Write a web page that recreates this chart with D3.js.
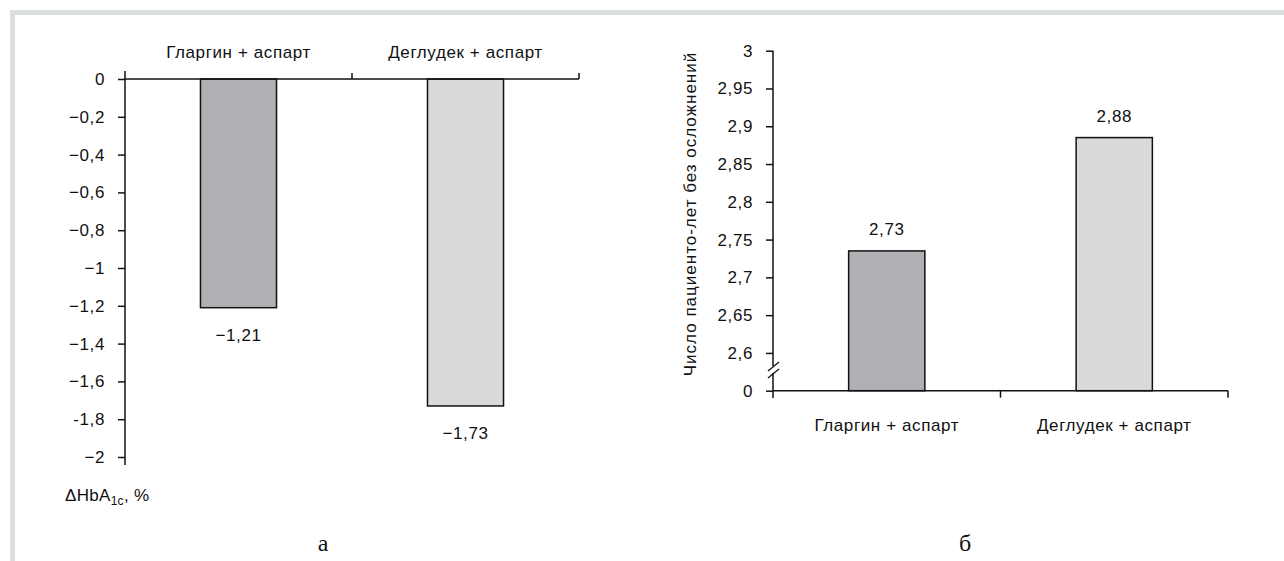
<!DOCTYPE html>
<html>
<head>
<meta charset="utf-8">
<script src="https://cdn.jsdelivr.net/npm/d3@7"></script>
<style>
  html, body { margin: 0; padding: 0; background: #fff; }
  svg { display: block; }
  text { font-family: "Liberation Sans", Arial, Helvetica, sans-serif; fill: #111; }
</style>
</head>
<body>
<svg id="chart" width="1284" height="561"></svg>
<script>
// ---- data ----
const categories = ["Гларгин + аспарт", "Деглудек + аспарт"];
const hba1cValues = [-1.21, -1.73];
const hba1cLabels = ["−1,21", "−1,73"];
const hba1cTicks = [0, -0.2, -0.4, -0.6, -0.8, -1, -1.2, -1.4, -1.6, -1.8, -2];
const hba1cTickLabels = ["0", "−0,2", "−0,4", "−0,6", "−0,8", "−1", "−1,2", "−1,4", "−1,6", "-1,8", "−2"];

const yearsValues = [2.735, 2.885];
const yearsLabels = ["2,73", "2,88"];
const yearsTicks = [2.55, 2.6, 2.65, 2.7, 2.75, 2.8, 2.85, 2.9, 2.95, 3];
const yearsTickLabels = ["0", "2,6", "2,65", "2,7", "2,75", "2,8", "2,85", "2,9", "2,95", "3"];

const barColors = ["#b0b1b4", "#d8dadb"];

// ---- drawing ----
const svg = d3.select("#chart");
const FS = 17;
const LS = "0.6px";

// frame
svg.append("rect").attr("x", 10).attr("y", 10).attr("width", 1274).attr("height", 5).attr("fill", "#dcdfe0");
svg.append("rect").attr("x", 10).attr("y", 10).attr("width", 5).attr("height", 551).attr("fill", "#dcdfe0");

// ===== left chart =====
const xL = d3.scaleBand().domain(categories).range([125, 579]).padding(0);
const yL = d3.scaleLinear().domain([0, -2]).range([79, 457]);
const barFrac = 0.335;
const gL = svg.append("g");

gL.selectAll("rect.bar").data(hba1cValues).join("rect")
  .attr("x", (d, i) => xL(categories[i]) + xL.bandwidth() * (1 - barFrac) / 2)
  .attr("width", xL.bandwidth() * barFrac)
  .attr("y", yL(0))
  .attr("height", d => yL(d) - yL(0))
  .attr("fill", (d, i) => barColors[i])
  .attr("stroke", "#111").attr("stroke-width", 1.5);

const axL = gL.append("g").attr("transform", "translate(125,0)")
  .call(d3.axisLeft(yL).tickValues(hba1cTicks)
    .tickFormat((d, i) => hba1cTickLabels[i]).tickSize(7).tickPadding(13));
axL.select(".domain").remove();
axL.append("line").attr("x1", 0).attr("x2", 0).attr("y1", 71).attr("y2", 465)
  .attr("stroke", "#111").attr("stroke-width", 1.5);
axL.selectAll(".tick line").attr("stroke", "#111").attr("stroke-width", 1.5);
axL.selectAll(".tick text").attr("font-size", FS).style("font-family", "Liberation Sans, Arial, sans-serif")
  .style("letter-spacing", LS).attr("fill", "#111");

gL.append("line").attr("x1", 125).attr("x2", 579).attr("y1", yL(0)).attr("y2", yL(0))
  .attr("stroke", "#111").attr("stroke-width", 1.5);
gL.selectAll("line.ctick").data(categories).join("line").attr("class", "ctick")
  .attr("x1", d => xL(d) + xL.bandwidth()).attr("x2", d => xL(d) + xL.bandwidth())
  .attr("y1", yL(0)).attr("y2", yL(0) - 6)
  .attr("stroke", "#111").attr("stroke-width", 1.5);

gL.selectAll("text.cat").data(categories).join("text").attr("class", "cat")
  .attr("x", d => xL(d) + xL.bandwidth() / 2).attr("y", 52).attr("dy", "0.35em")
  .attr("text-anchor", "middle").attr("font-size", FS).style("letter-spacing", LS).text(d => d);

gL.selectAll("text.val").data(hba1cValues).join("text").attr("class", "val")
  .attr("x", (d, i) => xL(categories[i]) + xL.bandwidth() / 2)
  .attr("y", d => yL(d) + 27).attr("dy", "0.35em")
  .attr("text-anchor", "middle").attr("font-size", FS).style("letter-spacing", LS).text((d, i) => hba1cLabels[i]);

const cap = gL.append("text").attr("x", 65).attr("y", 501).attr("font-size", FS).style("letter-spacing", "0.3px");
cap.append("tspan").text("ΔHbA");
cap.append("tspan").attr("font-size", 12).attr("dy", 4).text("1c");
cap.append("tspan").attr("dy", -4).text(", %");

// ===== right chart =====
const xR = d3.scaleBand().domain(categories).range([773, 1228]).padding(0);
const yR = d3.scaleLinear().domain([2.55, 3]).range([390.7, 50.7]);
const gR = svg.append("g");

gR.selectAll("rect.bar").data(yearsValues).join("rect")
  .attr("x", (d, i) => xR(categories[i]) + xR.bandwidth() * (1 - barFrac) / 2)
  .attr("width", xR.bandwidth() * barFrac)
  .attr("y", d => yR(d))
  .attr("height", d => yR(2.55) - yR(d))
  .attr("fill", (d, i) => barColors[i])
  .attr("stroke", "#111").attr("stroke-width", 1.5);

const axR = gR.append("g").attr("transform", "translate(773,0)")
  .call(d3.axisLeft(yR).tickValues(yearsTicks)
    .tickFormat((d, i) => yearsTickLabels[i]).tickSize(7).tickPadding(13));
axR.select(".domain").remove();
axR.selectAll(".tick line").attr("stroke", "#111").attr("stroke-width", 1.5);
axR.selectAll(".tick text").attr("font-size", FS).style("letter-spacing", LS).attr("fill", "#111");
axR.append("line").attr("x1", 0).attr("x2", 0).attr("y1", yR(3)).attr("y2", 366)
  .attr("stroke", "#111").attr("stroke-width", 1.5);
axR.append("line").attr("x1", 0).attr("x2", 0).attr("y1", 373).attr("y2", 398)
  .attr("stroke", "#111").attr("stroke-width", 1.5);
[[-5, 371, 6, 362], [-5, 378, 6, 369]].forEach(p => {
  axR.append("line").attr("x1", p[0]).attr("y1", p[1]).attr("x2", p[2]).attr("y2", p[3])
    .attr("stroke", "#111").attr("stroke-width", 1.3);
});

gR.append("line").attr("x1", 773).attr("x2", 1228).attr("y1", yR(2.55)).attr("y2", yR(2.55))
  .attr("stroke", "#111").attr("stroke-width", 1.5);
gR.selectAll("line.ctick").data(categories).join("line").attr("class", "ctick")
  .attr("x1", d => xR(d) + xR.bandwidth()).attr("x2", d => xR(d) + xR.bandwidth())
  .attr("y1", yR(2.55)).attr("y2", yR(2.55) + 7)
  .attr("stroke", "#111").attr("stroke-width", 1.5);

gR.selectAll("text.cat").data(categories).join("text").attr("class", "cat")
  .attr("x", d => xR(d) + xR.bandwidth() / 2).attr("y", 425).attr("dy", "0.35em")
  .attr("text-anchor", "middle").attr("font-size", FS).style("letter-spacing", LS).text(d => d);

gR.selectAll("text.val").data(yearsValues).join("text").attr("class", "val")
  .attr("x", (d, i) => xR(categories[i]) + xR.bandwidth() / 2)
  .attr("y", d => yR(d) - 22).attr("dy", "0.35em")
  .attr("text-anchor", "middle").attr("font-size", FS).style("letter-spacing", LS).text((d, i) => yearsLabels[i]);

gR.append("text").attr("transform", "translate(696,214) rotate(-90)")
  .attr("text-anchor", "middle").attr("font-size", FS).style("letter-spacing", "1px")
  .text("Число пациенто-лет без осложнений");

svg.append("text").attr("x", 323).attr("y", 551).attr("text-anchor", "middle")
  .style("font-family", "'Liberation Serif', 'Times New Roman', serif").attr("font-size", 24).text("а");
svg.append("text").attr("x", 965).attr("y", 551).attr("text-anchor", "middle")
  .style("font-family", "'Liberation Serif', 'Times New Roman', serif").attr("font-size", 24).text("б");
</script>
</body>
</html>
